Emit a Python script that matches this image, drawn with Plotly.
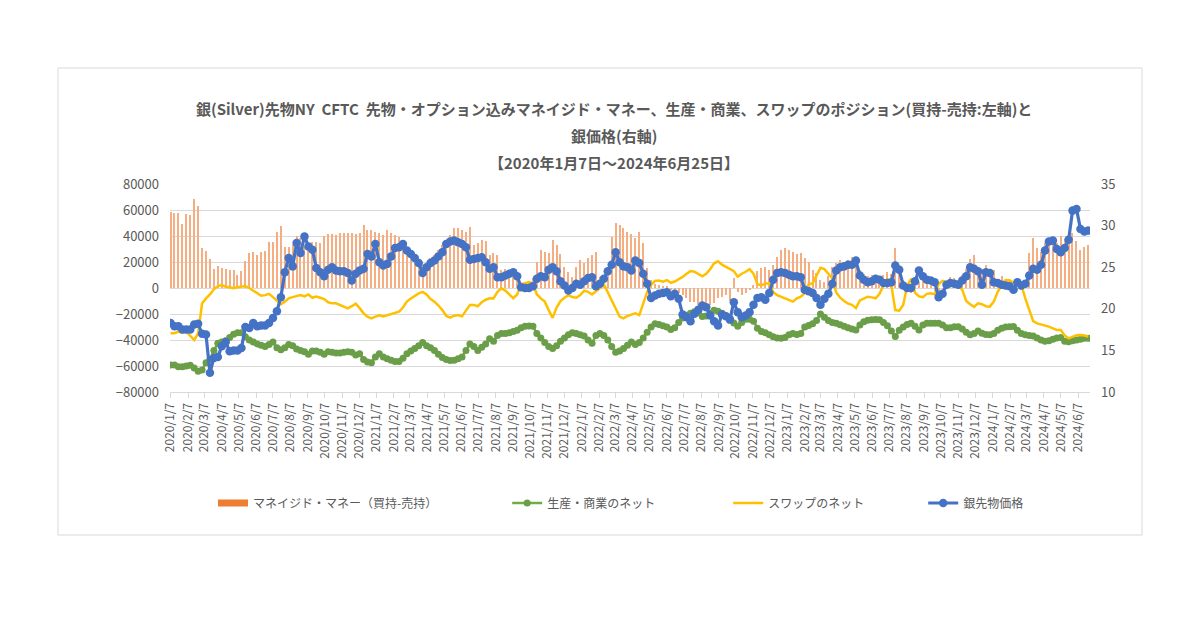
import pandas as pd
import plotly.graph_objects as go

# ---------------- data (weekly, Tuesdays, 2020/1/7 .. 2024/6/25) ----------------
start_date = "2020-01-07"

managed_money = [
    58700, 57900, 57900, 49200, 57100, 56400, 68200, 63100, 30500, 28500,
    22100, 14400, 16900, 15600, 14600, 13800, 13800, 10000, 13300, 20800,
    26700, 27400, 25400, 27400, 28700, 35100, 35600, 42800, 47700, 31800,
    31300, 33100, 40000, 38200, 31800, 35600, 35600, 35600, 34400, 40000,
    41500, 41500, 41000, 42000, 42000, 42500, 42000, 41500, 42500, 48500,
    45000, 44600, 43300, 42000, 41000, 44500, 42000, 41000, 39500, 37000,
    29000, 24500, 22800, 20000, 17700, 16400, 22800, 25600, 29000, 33000,
    37000, 41000, 46500, 45900, 45000, 43300, 47200, 33100, 34500, 37200,
    35900, 25400, 27000, 25400, 13800, 15000, 12500, 12000, 9000, 4000,
    2500, 3500, 8000, 20300, 29200, 28000, 26700, 36900, 33000, 26000,
    16000, 12000, 8700, 16400, 21500, 19000, 22800, 25400, 28000, 8700,
    6200, 13800, 39500, 49700, 48500, 46000, 43300, 41500, 38200, 43300,
    35000, 15100, 6000, 3000, 2500, 1500, 1000, -1500, -3000, -4000,
    -5400, -7900, -10500, -11000, -13000, -14400, -15600, -13000, -11800, -8000,
    -6700, -5400, -10000, 8000, -3000, -5400, -4100, -1500, 2000, 13000,
    15100, 16400, 13800, 17700, 24000, 29000, 30500, 29000, 27500, 26000,
    27000, 22800, 20000, 13800, 11300, 6000, 5000, 9000, 16400, 19000,
    21500, 20000, 21500, 24000, 22800, 13800, 11000, 9000, 10000, 8700,
    7500, 10000, 12500, 11000, 30500, 13800, 6200, -2000, -4000, 2000,
    5000, 8700, 6000, 3600, -2500, -5000, -1500, 4000, 8700, 7500,
    6200, 10000, 15000, 22000, 25400, 16400, 15000, 17700, 15000, 13800,
    5000, 9000, 6000, 5500, 5000, -2000, -1000, 3000, 26700, 38200,
    30500, 28000, 35000, 32000, 39500, 35000, 40000, 38000, 40800, 42000,
    36000, 29200, 31500, 33100,
]

producer_net = [
    -59200, -59200, -60500, -60500, -60000, -59500, -61500, -64000, -63000, -57500,
    -55000, -48000, -42500, -41500, -40500, -38000, -35500, -34500, -34500, -37500,
    -40000, -41500, -43000, -44000, -45000, -43500, -41500, -46000, -47500, -46000,
    -43500, -44500, -47000, -48000, -49000, -51000, -48500, -48500, -49500, -51000,
    -49000, -49500, -50000, -50000, -49500, -49000, -49500, -51500, -50500, -55000,
    -57000, -57500, -53000, -50500, -53000, -54500, -55500, -56500, -56500, -54000,
    -50500, -48500, -46500, -44500, -42000, -44500, -46000, -48000, -51000, -53500,
    -55000, -55800, -55500, -54500, -53000, -48000, -43000, -45000, -48000, -45500,
    -43000, -39000, -41000, -36500, -35000, -35000, -34500, -33500, -32500, -30500,
    -29500, -29300, -29500, -35000, -38500, -42000, -45000, -46500, -44500, -41000,
    -38500, -36000, -34500, -35000, -36000, -37000, -40000, -42500, -36500, -35000,
    -36500, -40000, -45000, -49500, -48500, -46500, -44000, -41500, -43500, -42000,
    -38500, -34000, -30000, -27500, -28000, -29000, -30000, -32000, -30500, -26500,
    -23000, -21000, -19500, -18300, -19000, -22000, -21500, -19500, -17200, -17800,
    -19500, -21500, -23000, -27000, -29500, -26500, -24000, -24000, -25500, -31000,
    -33500, -34500, -36000, -37500, -38500, -38700, -38000, -36000, -35000, -35800,
    -35000, -30000, -28800, -27500, -25000, -20000, -22500, -25000, -26500, -27200,
    -28200, -29500, -30500, -31500, -32300, -28500, -26000, -24800, -24500, -24200,
    -24500, -26500, -29000, -33000, -37400, -32500, -30000, -28000, -27200, -29500,
    -32300, -28500, -27200, -27200, -27200, -27200, -28400, -30500, -30500, -29800,
    -29800, -31500, -34000, -36000, -35000, -33000, -34800, -35800, -36000, -35000,
    -32500, -31000, -30000, -29800, -29700, -32500, -35000, -36000, -36500, -37000,
    -38500, -40000, -41000, -40500, -39500, -38500, -38000, -41000, -41300, -40500,
    -40000, -39500, -38700, -38700,
]

swap_net = [
    -34800, -34800, -33500, -34300, -33600, -37000, -40000, -35000, -12000, -8000,
    -5000, -1000, 1500, 2200, 1000, 500, -200, 500, 1000, 1500,
    0, -2000, -4000, -6000, -5500, -4500, -7000, -10000, -12500, -10500,
    -8000, -7000, -6500, -5500, -6500, -5000, -7500, -6500, -7500, -8500,
    -11000, -11800, -11800, -13000, -14300, -15600, -14000, -12000, -15500, -19500,
    -22000, -23300, -22000, -21000, -21800, -20800, -20000, -18800, -18200, -15000,
    -10500, -8000, -6000, -4200, -3000, -5000, -8500, -10500, -13500, -17000,
    -21500, -22800, -21300, -20800, -21800, -17000, -13000, -13000, -14000, -11000,
    -9000, -7900, -8000, -3000, -300, -2000, -5000, -7900, -5000, 3000,
    3600, 4500, 3500, -5000, -8000, -10500, -17000, -23000, -15000, -10000,
    -7500, -5500, -7000, -7500, -5500, -2000, -3000, -5000, -2500, -300,
    3000, -3000, -10000, -15000, -22000, -23300, -21500, -20500, -19500, -20800,
    -12000, -3000, 2500, 5500, 5800, 4900, 6100, 4000, 5000, 6500,
    8500, 11000, 13000, 12500, 10500, 9000, 11000, 14500, 19000, 20500,
    18000, 16500, 15000, 13000, 8700, 11000, 12500, 14500, 11000, 3000,
    2000, 3500, 3500, -3000, -5500, -6800, -7800, -9500, -10500, -8000,
    -6700, -4000, 2800, 3600, 9000, 15500, 14500, 11000, 7500, -3500,
    -7500, -10000, -12000, -13000, -15500, -9500, -8000, -6700, -7200, -7900,
    -4500, 2000, 7000, 2000, -17000, -17500, -13000, 1500, 7000, -3500,
    -6500, -7000, -4500, -4100, -4800, 3000, 5500, 4800, 4200, 3600,
    2500, -1500, -10000, -12500, -14500, -11800, -12500, -14000, -14300, -10500,
    -3000, 2300, 6200, 6000, 4000, 4800, 2500, -8000, -17000, -25500,
    -27200, -28000, -28500, -29700, -31000, -32300, -32300, -36500, -38700, -37500,
    -36300, -36200, -36500, -37400,
]

silver_price = [
    18.3, 17.9, 17.9, 17.5, 17.5, 17.5, 18.1, 18.2, 17.0, 16.9,
    12.3, 14.1, 14.2, 15.5, 16.0, 14.9, 15.0, 15.0, 15.3, 17.8,
    17.7, 18.3, 17.9, 18.0, 18.0, 18.3, 18.9, 19.7, 21.4, 24.4,
    26.1, 25.1, 27.9, 26.7, 28.7, 27.5, 27.1, 24.9, 24.4, 23.9,
    24.7, 25.0, 24.6, 24.5, 24.5, 24.3, 23.4, 24.2, 24.6, 24.8,
    26.6, 26.3, 27.8, 25.6, 25.2, 25.4, 26.3, 27.3, 27.4, 27.8,
    27.0, 26.6, 26.1, 25.5, 24.3, 25.0, 25.5, 25.8, 26.3, 26.8,
    27.8, 28.1, 28.2, 28.0, 27.8, 27.4, 25.9, 26.0, 26.1, 26.2,
    25.6, 24.8, 25.0, 23.8, 23.8, 24.0, 24.2, 24.4, 23.9, 22.6,
    22.5, 22.5, 22.7, 23.6, 23.9, 23.8, 24.7, 25.0, 24.5, 23.3,
    22.8, 22.2, 22.5, 23.0, 22.9, 23.3, 23.7, 23.8, 22.7, 23.0,
    23.6, 24.5, 25.3, 26.8, 25.6, 25.1, 25.0, 24.6, 25.8, 25.5,
    24.2, 23.0, 21.3, 21.6, 21.8, 21.9, 22.0, 21.5, 21.8, 21.2,
    19.3, 19.0, 18.5, 19.4, 19.9, 20.4, 20.2, 19.2, 18.5, 18.0,
    19.3, 19.1, 18.7, 20.8, 19.6, 19.0, 19.2, 19.6, 20.5, 21.3,
    21.4, 21.1, 21.9, 23.5, 24.3, 24.4, 24.3, 24.1, 23.9, 23.9,
    23.8, 22.3, 22.1, 21.9, 21.3, 20.5, 21.2, 21.8, 23.0, 24.6,
    25.0, 25.1, 25.3, 25.3, 25.8, 24.0, 23.5, 23.2, 23.3, 23.6,
    23.5, 23.1, 23.1, 23.2, 25.2, 24.7, 22.8, 22.5, 22.5, 23.3,
    24.6, 23.9, 23.5, 23.4, 23.2, 21.4, 21.8, 22.9, 23.1, 23.0,
    22.9, 23.4, 23.9, 25.0, 24.8, 24.5, 22.9, 24.4, 24.3, 23.2,
    23.1, 22.9, 22.8, 22.7, 22.3, 23.2, 22.8, 23.0, 24.0, 24.8,
    24.7, 25.3, 27.0, 28.1, 28.2, 27.2, 26.8, 27.3, 28.3, 31.8,
    32.0, 29.6, 29.3, 29.4,
]

series_names = ["マネイジド・マネー（買持-売持）", "生産・商業のネット", "スワップのネット", "銀先物価格"]

dates = pd.date_range(start_date, periods=len(silver_price), freq="7D")

tick_dates = pd.date_range("2020-01-01", "2024-06-01", freq="MS") + pd.Timedelta(days=6)
tick_labels = [f"{d.year}/{d.month}/{d.day}" for d in tick_dates]

title_lines = [
    "銀(Silver)先物NY  CFTC  先物・オプション込みマネイジド・マネー、生産・商業、スワップのポジション(買持-売持:左軸)と",
    "銀価格(右軸)",
    "【2020年1月7日～2024年6月25日】",
]

# ---------------- figure ----------------
FONT = "Noto Sans CJK JP"
GRAY = "#595959"
GRID = "#D9D9D9"
IS = "\u3000"   # ideographic space (legend padding)
ES = "\u2002"   # en space
S4 = "\u2005"   # four-per-em space
S6 = "\u2006"   # six-per-em space

# page body has an 8px margin -> build the figure 8px smaller and shift by 8
OFF = 8
L, T, PW, PH = 170 - OFF, 184 - OFF, 920, 208
W, H = 1200 - OFF, 628 - OFF


def px_x(px):
    return (px - 170) / PW


def px_y(py):
    return (392 - py) / PH


fig = go.Figure()
# legend proxy for the bar series (wide orange swatch like the original)
fig.add_trace(go.Scatter(
    x=[None], y=[None], name=series_names[0] + IS * 5 + ES + S4 + S6, mode="lines",
    line=dict(color="#ED7D31", width=7), legendgroup="mm",
))
fig.add_trace(go.Bar(
    x=dates, y=managed_money, name=series_names[0], showlegend=False,
    legendgroup="mm",
    marker=dict(color="#F5AE82", line=dict(width=0)),
    width=2.0 * 86400000, yaxis="y",
))
fig.add_trace(go.Scatter(
    x=dates, y=producer_net, name=series_names[1] + IS * 5 + ES + S6, mode="lines+markers",
    line=dict(color="#70AD47", width=2.5),
    marker=dict(color="#6A9E48", size=7, symbol="circle"),
    yaxis="y",
))
fig.add_trace(go.Scatter(
    x=dates, y=swap_net, name=series_names[2] + IS * 4 + ES, mode="lines",
    line=dict(color="#FFC000", width=2.5), yaxis="y",
))
fig.add_trace(go.Scatter(
    x=dates, y=silver_price, name=series_names[3], mode="lines+markers",
    line=dict(color="#4472C4", width=3.2),
    marker=dict(color="#4472C4", size=8.5, symbol="circle"),
    yaxis="y2",
))

annotations = []
for txt, py in zip(title_lines, [108, 136, 163]):
    annotations.append(dict(
        text=f"<b>{txt}</b>", x=px_x(614), y=px_y(py),
        xref="paper", yref="paper", xanchor="center", yanchor="middle",
        showarrow=False, font=dict(family=FONT, size=15, color=GRAY),
    ))

fig.update_layout(
    width=W, height=H,
    paper_bgcolor="white", plot_bgcolor="white",
    margin=dict(l=L, r=W - L - PW, t=T, b=H - T - PH, autoexpand=False),
    font=dict(family=FONT, color=GRAY, size=12),
    showlegend=True,
    legend=dict(
        orientation="h", x=px_x(213), y=px_y(503),
        xanchor="left", yanchor="middle", font=dict(size=12, color=GRAY, family=FONT),
        itemwidth=30, bgcolor="rgba(0,0,0,0)", traceorder="normal",
    ),
    bargap=0,
    annotations=annotations,
    shapes=[dict(
        type="rect", xref="paper", yref="paper",
        x0=px_x(58), x1=px_x(1142), y0=px_y(535), y1=px_y(68),
        line=dict(color=GRID, width=1), fillcolor="rgba(0,0,0,0)", layer="below",
    )],
    xaxis=dict(
        type="date", range=["2020-01-06", "2024-06-28"],
        tickvals=list(tick_dates), ticktext=tick_labels, tickangle=-90,
        tickfont=dict(size=12, color=GRAY, family=FONT),
        ticks="outside", ticklen=5, tickcolor=GRID,
        showline=True, linecolor=GRID, linewidth=1, showgrid=False, zeroline=False,
    ),
    yaxis=dict(
        range=[-80000, 80000], dtick=20000, tickformat="d",
        showgrid=True, gridcolor=GRID, gridwidth=1, zeroline=False,
        tickfont=dict(size=13, color=GRAY, family=FONT), ticklabelstandoff=10,
    ),
    yaxis2=dict(
        range=[10, 35], dtick=5, overlaying="y", side="right",
        showgrid=False, zeroline=False,
        tickfont=dict(size=13, color=GRAY, family=FONT), ticklabelstandoff=10,
    ),
)

fig.write_html("out.html")
